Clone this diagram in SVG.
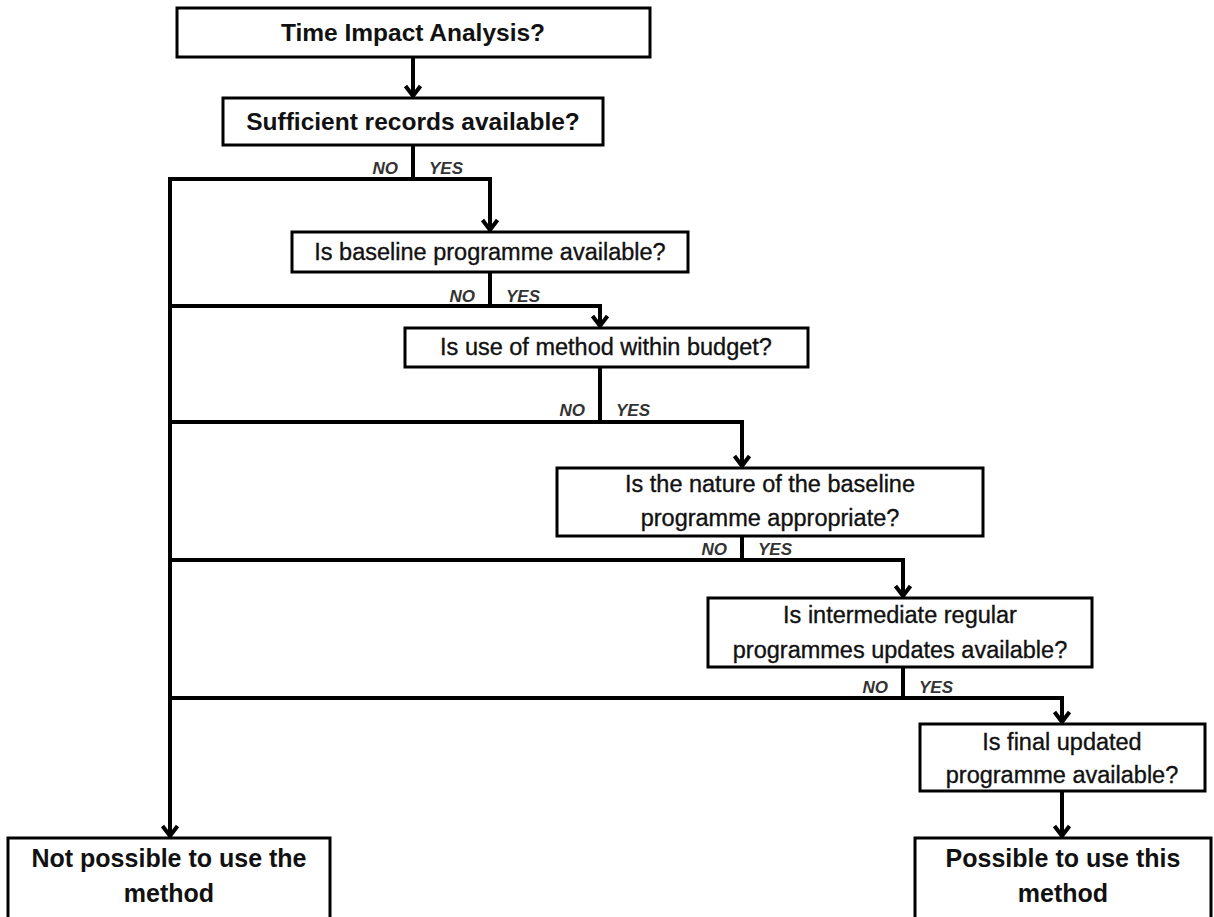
<svg xmlns="http://www.w3.org/2000/svg" width="1214" height="917" viewBox="0 0 1214 917">
  <style>
    .box { fill: #fff; stroke: #000; stroke-width: 3; }
    .wire { fill: none; stroke: #000; stroke-width: 4; }
    .t { font-family: "Liberation Sans", Arial, sans-serif; text-anchor: middle; fill: #111; }
    .head { font-size: 24.5px; font-weight: bold; }
    .q { font-size: 23.5px; stroke: #111; stroke-width: 0.35; }
    .end { font-size: 25px; font-weight: bold; }
    .lbl { font-family: "Liberation Sans", Arial, sans-serif; font-size: 17px; font-weight: bold; font-style: italic; fill: #333; }
    .no { text-anchor: end; }
  </style>
  <defs>
    <marker id="chev" viewBox="-14 -10 16 20" markerWidth="16" markerHeight="20" refX="0" refY="0" orient="auto" markerUnits="userSpaceOnUse">
      <path d="M-12,-7.5 L-2,0 L-12,7.5" fill="none" stroke="#000" stroke-width="4"/>
    </marker>
  </defs>

  <!-- connectors: the YES path steps right, every NO joins the left trunk -->
  <g id="connectors" class="wire">
    <path d="M413,57 V98" marker-end="url(#chev)"/>
    <path d="M413,145 V179"/>
    <path d="M170,179 H490 V232" marker-end="url(#chev)"/>
    <path d="M170,177 V838" marker-end="url(#chev)"/>
    <path d="M490,272 V306"/>
    <path d="M170,306 H600 V328" marker-end="url(#chev)"/>
    <path d="M600,367 V422"/>
    <path d="M170,422 H742 V468" marker-end="url(#chev)"/>
    <path d="M742,536 V560"/>
    <path d="M170,560 H903 V598" marker-end="url(#chev)"/>
    <path d="M903,667 V698"/>
    <path d="M170,698 H1062 V724" marker-end="url(#chev)"/>
    <path d="M1062,791 V838" marker-end="url(#chev)"/>
  </g>

  <!-- branch labels -->
  <g id="branch-labels">
    <text class="lbl no" x="398" y="174">NO</text>
    <text class="lbl" x="429" y="174">YES</text>
    <text class="lbl no" x="475" y="302">NO</text>
    <text class="lbl" x="506" y="302">YES</text>
    <text class="lbl no" x="585" y="416">NO</text>
    <text class="lbl" x="616" y="416">YES</text>
    <text class="lbl no" x="727" y="555">NO</text>
    <text class="lbl" x="758" y="555">YES</text>
    <text class="lbl no" x="888" y="693">NO</text>
    <text class="lbl" x="919" y="693">YES</text>
  </g>

  <g id="n-start">
    <rect class="box" x="177" y="8" width="473" height="49"/>
    <text class="t head" x="413" y="41">Time Impact Analysis?</text>
  </g>

  <g id="n-records">
    <rect class="box" x="223" y="98" width="380" height="47"/>
    <text class="t head" x="413" y="130">Sufficient records available?</text>
  </g>

  <g id="n-baseline">
    <rect class="box" x="292" y="232" width="396" height="40"/>
    <text class="t q" x="490" y="260">Is baseline programme available?</text>
  </g>

  <g id="n-budget">
    <rect class="box" x="405" y="328" width="403" height="39"/>
    <text class="t q" x="606" y="355">Is use of method within budget?</text>
  </g>

  <g id="n-nature">
    <rect class="box" x="557" y="468" width="426" height="68"/>
    <text class="t q" x="770" y="492">Is the nature of the baseline</text>
    <text class="t q" x="770" y="526">programme appropriate?</text>
  </g>

  <g id="n-updates">
    <rect class="box" x="708" y="598" width="384" height="69"/>
    <text class="t q" x="900" y="623">Is intermediate regular</text>
    <text class="t q" x="900" y="658">programmes updates available?</text>
  </g>

  <g id="n-final">
    <rect class="box" x="920" y="724" width="285" height="67"/>
    <text class="t q" x="1062" y="750">Is final updated</text>
    <text class="t q" x="1062" y="783">programme available?</text>
  </g>

  <g id="n-not-possible">
    <rect class="box" x="8" y="838" width="322" height="82"/>
    <text class="t end" x="169" y="867">Not possible to use the</text>
    <text class="t end" x="169" y="902">method</text>
  </g>

  <g id="n-possible">
    <rect class="box" x="915" y="838" width="296" height="82"/>
    <text class="t end" x="1063" y="867">Possible to use this</text>
    <text class="t end" x="1063" y="902">method</text>
  </g>
</svg>
